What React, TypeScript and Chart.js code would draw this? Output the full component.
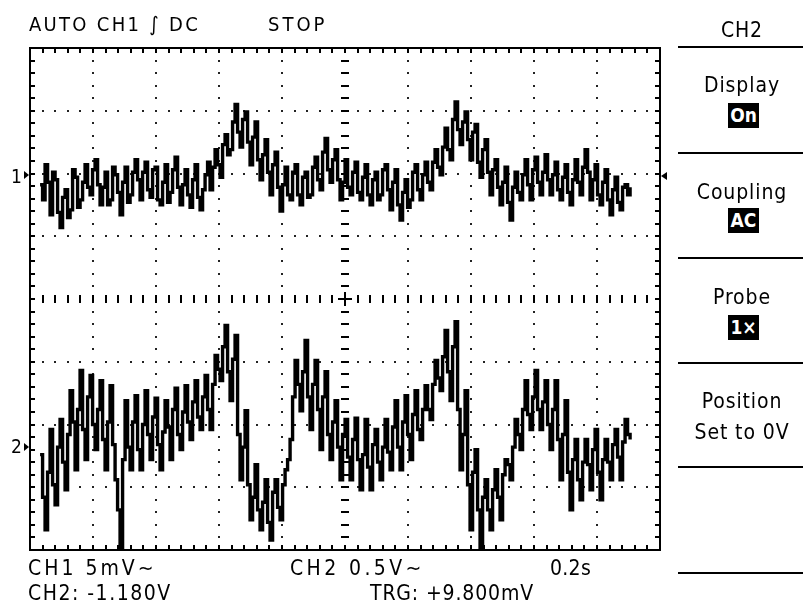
import React, { useEffect, useRef } from "react";
import { Chart, registerables } from "chart.js";

Chart.register(...registerables);

// CH1 samples (mV), AC coupled, 5 mV/div
const CH1_MV = [
  -0.8, -2.0, 0.8, -0.6, -3.2, 0.2, -0.4, -3.0, -4.2, -1.8, -1.2, -3.4, -2.8, 0.4, -0.2, -2.6, -2.0, -0.6, 0.8, -1.0,
  -1.6, 0.4, 1.2, -0.8, -2.4, -1.0, 0.2, -2.4, -2.0, 0.6, 0.0, -1.4, -3.2, -0.6, 0.6, -2.2, -1.6, 0.2, 1.2, -0.4,
  -2.0, 0.2, 1.0, -1.2, -1.8, 0.4, 0.6, -2.0, -2.4, -0.6, 0.8, -2.2, -1.4, 0.4, 1.4, -1.0, -2.4, -0.8, 0.4, -1.6,
  -2.6, -0.4, 0.8, -1.8, -2.8, -1.2, 0.0, 1.0, -1.2, 0.6, 2.0, 0.8, -0.2, 2.4, 3.2, 1.6, 2.0, 4.2, 5.6, 3.4,
  2.2, 4.4, 5.0, 2.6, 0.8, 3.0, 4.2, 1.2, -0.4, 1.6, 2.8, 0.2, -1.6, 0.8, 1.8, -1.0, -2.9, -0.8, 0.6, -1.6,
  -2.0, 0.2, 0.8, -1.6, -2.4, -0.2, 0.2, -1.8, -1.6, 0.6, 1.4, -0.4, -1.2, 1.8, 2.9, 0.4, -0.6, 1.2, 2.0, -0.4,
  -2.0, -0.6, 1.2, -1.0, -1.6, 0.2, 1.0, -1.4, -2.0, -0.2, 0.8, -1.6, -2.4, -0.4, 0.2, -2.0, -1.6, 0.4, 0.8, -1.2,
  -2.8, -0.6, 0.4, -2.4, -3.6, -1.4, -0.4, -2.6, -2.0, 0.2, 0.8, -1.2, -2.0, 0.0, 1.0, -0.6, -1.2, 1.0, 2.0, 0.6,
  0.0, 2.2, 3.7, 2.0, 1.2, 4.4, 5.8, 3.6, 2.4, 4.2, 5.0, 2.8, 1.2, 3.4, 4.0, 1.0, -0.2, 2.0, 2.8, 0.2,
  -1.6, 0.4, 1.2, -1.0, -2.4, -0.6, 0.6, -2.2, -3.6, -1.0, 0.2, -1.4, -2.0, 0.0, 1.2, -0.8, -2.0, 0.4, 1.4, -0.6,
  -1.6, 0.2, 1.6, -0.4, -1.6, 0.0, 1.0, -1.2, -2.0, -0.2, 0.8, -1.4, -2.4, -0.4, 1.2, -0.6, -1.6, 0.6, 2.0, 0.2,
  -2.0, -0.4, 0.8, -1.6, -2.4, -0.6, 0.4, -2.0, -3.2, -1.2, -0.2, -2.2, -2.8, -1.0, -0.8, -1.6, -1.0,
];

// CH2 samples (V), AC coupled, 0.5 V/div
const CH2_V = [
  -0.06, -0.40, -0.66, -0.20, 0.14, -0.30, -0.46, 0.00, 0.22, -0.12, -0.34, 0.10, 0.45, 0.20, -0.18, 0.30, 0.61, 0.14, -0.10,
  0.40, 0.57, 0.18, -0.02, 0.30, 0.53, 0.06, -0.18, 0.20, 0.49, 0.02, -0.26, -0.50, -0.80, -0.10, 0.37, 0.00, -0.18, 0.20, 0.41,
  -0.02, -0.18, 0.18, 0.45, 0.10, -0.10, 0.24, 0.39, 0.02, -0.18, 0.12, 0.37, 0.16, -0.10, 0.30, 0.47, 0.10, -0.02, 0.28, 0.49,
  0.20, 0.06, 0.36, 0.53, 0.24, 0.14, 0.40, 0.57, 0.30, 0.14, 0.50, 0.73, 0.62, 0.53, 0.80, 0.97, 0.60, 0.37, 0.70, 0.89,
  0.10, -0.26, 0.00, 0.29, -0.30, -0.58, -0.40, -0.14, -0.50, -0.66, -0.44, -0.26, -0.60, -0.74, -0.36, -0.26, -0.48, -0.58, -0.30, -0.18,
  -0.10, 0.06, 0.40, 0.69, 0.50, 0.29, 0.60, 0.85, 0.40, 0.14, 0.50, 0.69, 0.30, -0.02, 0.40, 0.60, 0.10, -0.10, 0.20, 0.37,
  0.00, -0.26, 0.10, 0.22, -0.08, -0.26, 0.06, 0.23, -0.10, -0.34, -0.06, 0.22, -0.16, -0.34, 0.02, 0.14, -0.12, -0.26, 0.00, 0.22,
  -0.04, -0.18, 0.16, 0.37, 0.00, -0.18, 0.20, 0.41, 0.10, -0.10, 0.26, 0.45, 0.14, 0.06, 0.30, 0.49, 0.30, 0.22, 0.50, 0.69,
  0.55, 0.45, 0.72, 0.93, 0.60, 0.37, 0.80, 1.00, 0.30, -0.18, 0.10, 0.45, -0.30, -0.66, -0.20, -0.02, -0.50, -0.80, -0.40, -0.26,
  -0.50, -0.66, -0.34, -0.18, -0.40, -0.58, -0.22, -0.10, -0.14, -0.26, 0.00, 0.22, 0.10, -0.02, 0.30, 0.53, 0.26, 0.14, 0.40, 0.61,
  0.30, 0.14, 0.36, 0.53, 0.18, -0.02, 0.30, 0.53, 0.06, -0.26, 0.10, 0.37, -0.20, -0.50, -0.10, 0.06, -0.26, -0.42, -0.12, 0.06,
  -0.14, -0.34, -0.02, 0.14, -0.20, -0.42, -0.10, 0.06, -0.12, -0.26, 0.02, 0.14, -0.08, -0.26, 0.04, 0.22, 0.10, 0.06,
];

const SAMPLE_START_S = 0.032;
const SAMPLE_INTERVAL_S = 1 / 126;
const TIME_PER_DIV_S = 0.2;
const CH1_MV_PER_DIV = 5;
const CH2_V_PER_DIV = 0.5;
const CH1_POSITION_DIV = 1.98;
const CH2_POSITION_DIV = -2.36;
const H_DIVS = 10;
const V_DIVS = 8;
const MINOR = 5;

const MENU_ITEMS = [
  { label: ["Display"], value: "On" },
  { label: ["Coupling"], value: "AC" },
  { label: ["Probe"], value: "1×" },
  { label: ["Position", "Set to 0V"], value: "" },
];

const FONT = '"DejaVu Sans Condensed", "DejaVu Sans", sans-serif';

function T(props: any) {
  const { x, y, size = 20, ls = 0, align = "left", color = "#000", children } = props;
  const style: any = {
    position: "absolute",
    left: x,
    top: y - 0.846 * size,
    fontFamily: FONT,
    fontSize: size,
    lineHeight: `${size}px`,
    letterSpacing: ls,
    whiteSpace: "nowrap",
    color,
  };
  if (align === "center") style.transform = "translateX(-50%)";
  return <div style={style}>{children}</div>;
}

const scopePlugin = {
  id: "scope",
  beforeDatasetsDraw(chart: any) {
    const ctx = chart.ctx;
    const xs = chart.scales.x;
    const ys = chart.scales.y1;
    const xAt = (d: number) => xs.getPixelForValue(d * TIME_PER_DIV_S);
    const yAt = (d: number) => ys.getPixelForValue(ys.min + d * CH1_MV_PER_DIV);
    ctx.save();
    ctx.fillStyle = "#222";
    for (let i = 1; i < H_DIVS; i++) {
      if (i === H_DIVS / 2) continue;
      const x = Math.round(xAt(i));
      for (let j = 1; j < V_DIVS * MINOR; j++) {
        const y = Math.round(yAt(j / MINOR));
        ctx.fillRect(x - 1, y - 1, 2, 2);
      }
    }
    for (let j = 1; j < V_DIVS; j++) {
      if (j === V_DIVS / 2) continue;
      const y = Math.round(yAt(j));
      for (let i = 1; i < H_DIVS * MINOR; i++) {
        const x = Math.round(xAt(i / MINOR));
        ctx.fillRect(x - 1, y - 1, 2, 2);
      }
    }
    const xc = Math.round(xAt(H_DIVS / 2));
    const yc = Math.round(yAt(V_DIVS / 2));
    ctx.fillStyle = "#000";
    for (let i = 1; i < H_DIVS * MINOR; i++) {
      const x = Math.round(xAt(i / MINOR));
      ctx.fillRect(x - 1, yc - 4, 2, 8);
    }
    for (let j = 1; j < V_DIVS * MINOR; j++) {
      const y = Math.round(yAt(j / MINOR));
      ctx.fillRect(xc - 4, y - 1, 8, 2);
    }
    ctx.fillRect(xc - 7, yc - 1, 14, 2);
    ctx.fillRect(xc - 1, yc - 7, 2, 14);
    ctx.restore();
  },
  afterDatasetsDraw(chart: any) {
    const ctx = chart.ctx;
    const xs = chart.scales.x;
    const ys = chart.scales.y1;
    const ys2 = chart.scales.y2;
    const { left, right, top, bottom } = chart.chartArea;
    const xAt = (d: number) => xs.getPixelForValue(d * TIME_PER_DIV_S);
    const yAt = (d: number) => ys.getPixelForValue(ys.min + d * CH1_MV_PER_DIV);
    ctx.save();
    ctx.strokeStyle = "#000";
    ctx.lineWidth = 2;
    ctx.strokeRect(left, top, right - left, bottom - top);
    ctx.fillStyle = "#000";
    for (let i = 1; i < H_DIVS * MINOR; i++) {
      const x = Math.round(xAt(i / MINOR));
      ctx.fillRect(x - 1, top, 2, 5);
      ctx.fillRect(x - 1, bottom - 5, 2, 5);
    }
    for (let j = 1; j < V_DIVS * MINOR; j++) {
      const y = Math.round(yAt(j / MINOR));
      ctx.fillRect(left, y - 1, 5, 2);
      ctx.fillRect(right - 5, y - 1, 5, 2);
    }
    const g1 = Math.round(ys.getPixelForValue(0));
    const g2 = Math.round(ys2.getPixelForValue(0));
    for (const g of [g1, g2]) {
      ctx.beginPath();
      ctx.moveTo(left - 1, g);
      ctx.lineTo(left - 6, g - 4);
      ctx.lineTo(left - 6, g + 4);
      ctx.closePath();
      ctx.fill();
    }
    ctx.beginPath();
    ctx.moveTo(right + 1, g1 + 1);
    ctx.lineTo(right + 7, g1 - 3);
    ctx.lineTo(right + 7, g1 + 5);
    ctx.closePath();
    ctx.fill();
    ctx.restore();
  },
};

export default function App() {
  const ref = useRef<HTMLCanvasElement>(null);
  useEffect(() => {
    if (!ref.current) return;
    const ch1 = CH1_MV.map((v, i) => ({ x: SAMPLE_START_S + i * SAMPLE_INTERVAL_S, y: v }));
    const ch2 = CH2_V.map((v, i) => ({ x: SAMPLE_START_S + i * SAMPLE_INTERVAL_S, y: v }));
    const chart = new Chart(ref.current, {
      type: "line",
      data: {
        datasets: [
          { label: "CH1", data: ch1, yAxisID: "y1", borderColor: "#000", borderWidth: 3.4, borderJoinStyle: "miter", pointRadius: 0, stepped: "before" },
          { label: "CH2", data: ch2, yAxisID: "y2", borderColor: "#000", borderWidth: 3.4, borderJoinStyle: "miter", pointRadius: 0, stepped: "before" },
        ],
      },
      options: {
        responsive: false,
        maintainAspectRatio: false,
        animation: false,
        events: [],
        layout: { padding: { left: 30, top: 48, right: 143, bottom: 60 } },
        plugins: { legend: { display: false }, tooltip: { enabled: false }, title: { display: false } },
        scales: {
          x: { type: "linear", display: false, min: 0, max: H_DIVS * TIME_PER_DIV_S },
          y1: {
            type: "linear",
            display: false,
            min: (-V_DIVS / 2 - CH1_POSITION_DIV) * CH1_MV_PER_DIV,
            max: (V_DIVS / 2 - CH1_POSITION_DIV) * CH1_MV_PER_DIV,
          },
          y2: {
            type: "linear",
            display: false,
            min: (-V_DIVS / 2 - CH2_POSITION_DIV) * CH2_V_PER_DIV,
            max: (V_DIVS / 2 - CH2_POSITION_DIV) * CH2_V_PER_DIV,
          },
        },
      },
      plugins: [scopePlugin],
    });
    return () => chart.destroy();
  }, []);

  const sepYs = [47, 153, 258, 363, 467, 573];
  const labelBaselines = [[93], [200], [305], [409, 440]];
  const boxTops = [103, 208, 315];

  return (
    <div style={{ position: "fixed", left: 0, top: 0, width: 803, height: 610, background: "#fff", overflow: "hidden" }}>
      <canvas ref={ref} width={803} height={610} style={{ position: "absolute", left: 0, top: 0, width: 803, height: 610 }} />
      <T x={29} y={31} size={20} ls={2.3}>AUTO CH1 ∫ DC</T>
      <T x={268} y={31} size={20} ls={3}>STOP</T>
      <T x={742} y={38} size={21} ls={0.8} align="center">CH2</T>
      <T x={11} y={183} size={19}>1</T>
      <T x={11} y={453} size={19}>2</T>
      <T x={28} y={576} size={21} ls={3}>CH1 5mV∼</T>
      <T x={290} y={576} size={21} ls={3.4}>CH2 0.5V∼</T>
      <T x={550} y={576} size={21} ls={0.3}>0.2s</T>
      <T x={28} y={601} size={21} ls={1.5}>CH2: -1.180V</T>
      <T x={370} y={601} size={21} ls={0.85}>TRG: +9.800mV</T>
      {sepYs.map((y) => (
        <div key={y} style={{ position: "absolute", left: 678, top: y - 1, width: 125, height: 2, background: "#000" }} />
      ))}
      {MENU_ITEMS.map((m, i) => (
        <React.Fragment key={i}>
          {m.label.map((l, k) => (
            <T key={k} x={742} y={labelBaselines[i][k]} size={21} ls={0.9} align="center">{l}</T>
          ))}
          {m.value ? (
            <div
              style={{
                position: "absolute",
                left: 728,
                top: boxTops[i],
                width: 31,
                height: 25,
                background: "#000",
                color: "#fff",
                fontFamily: FONT,
                fontSize: 19,
                fontWeight: "bold",
                lineHeight: "25px",
                textAlign: "center",
              }}
            >
              {m.value}
            </div>
          ) : null}
        </React.Fragment>
      ))}
    </div>
  );
}
